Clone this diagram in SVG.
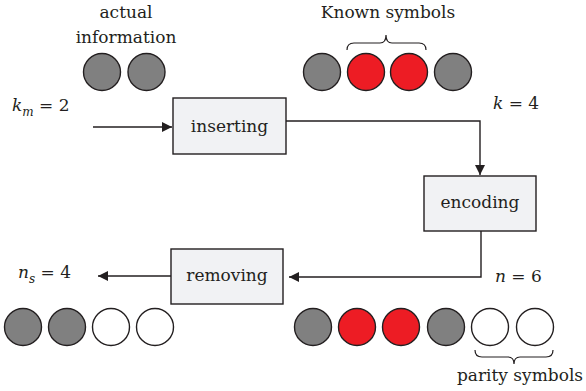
<svg xmlns="http://www.w3.org/2000/svg" width="586" height="391" viewBox="0 0 586 391">
<defs>
<style>
text{font-family:'DejaVu Serif','Liberation Serif',serif;font-size:17px;fill:#231f20}
.it{font-style:italic}
.box{fill:#f1f2f4;stroke:#231f20;stroke-width:1.4}
.g{fill:#808080;stroke:#231f20;stroke-width:1.4}
.r{fill:#ed1c24;stroke:#231f20;stroke-width:1.4}
.w{fill:#ffffff;stroke:#231f20;stroke-width:1.4}
.ln{fill:none;stroke:#231f20;stroke-width:1.4}
.br{fill:none;stroke:#231f20;stroke-width:1.2}
</style>
<marker id="ah" viewBox="0 0 10 10" refX="10" refY="5" markerWidth="10" markerHeight="10" markerUnits="userSpaceOnUse" orient="auto">
<path d="M0,0 L10,5 L0,10 Z" fill="#231f20"/>
</marker>
</defs>
<rect width="586" height="391" fill="#ffffff"/>

<g id="connectors">
<line class="ln" x1="93" y1="127" x2="172" y2="127" marker-end="url(#ah)"/>
<polyline class="ln" points="286,121 480,121 480,175" marker-end="url(#ah)"/>
<polyline class="ln" points="481,231 481,277 289,277" marker-end="url(#ah)"/>
<line class="ln" x1="171" y1="276" x2="98" y2="276" marker-end="url(#ah)"/>
</g>

<g id="inserting">
<rect class="box" x="173" y="98" width="113" height="56"/>
<text x="229.5" y="132" text-anchor="middle">inserting</text>
</g>
<g id="encoding">
<rect class="box" x="424" y="176" width="112" height="55"/>
<text x="480" y="208" text-anchor="middle">encoding</text>
</g>
<g id="removing">
<rect class="box" x="171" y="249" width="112" height="55"/>
<text x="227" y="281" text-anchor="middle">removing</text>
</g>

<g id="actual-info">
<text x="126" y="18" text-anchor="middle">actual</text>
<text x="126" y="43" text-anchor="middle">information</text>
<circle class="g" cx="102" cy="72" r="18.5"/>
<circle class="g" cx="146.5" cy="72" r="18.5"/>
</g>

<g id="known-symbols">
<text x="388" y="18" text-anchor="middle">Known symbols</text>
<path class="br" d="M347,50 Q347,43 354,43 L380,43 Q386,43 386,35 Q386,43 392,43 L419,43 Q426,43 426,50"/>
<circle class="g" cx="322" cy="72" r="18.5"/>
<circle class="r" cx="366" cy="72" r="18.5"/>
<circle class="r" cx="409" cy="72" r="18.5"/>
<circle class="g" cx="453" cy="72" r="18.5"/>
</g>

<g id="labels">
<text x="12" y="111"><tspan class="it">k</tspan><tspan class="it" font-size="12" dy="5">m</tspan><tspan dy="-5"> = 2</tspan></text>
<text x="493" y="109"><tspan class="it">k</tspan> = 4</text>
<text x="18" y="278"><tspan class="it">n</tspan><tspan class="it" font-size="12" dy="5">s</tspan><tspan dy="-5"> = 4</tspan></text>
<text x="495" y="282"><tspan class="it">n</tspan> = 6</text>
</g>

<g id="output">
<circle class="g" cx="23" cy="327" r="18.5"/>
<circle class="g" cx="67" cy="327" r="18.5"/>
<circle class="w" cx="111" cy="327" r="18.5"/>
<circle class="w" cx="155" cy="327" r="18.5"/>
</g>

<g id="codeword">
<circle class="g" cx="313" cy="327" r="18.5"/>
<circle class="r" cx="357" cy="327" r="18.5"/>
<circle class="r" cx="401" cy="327" r="18.5"/>
<circle class="g" cx="446" cy="327" r="18.5"/>
<circle class="w" cx="490" cy="327" r="18.5"/>
<circle class="w" cx="535" cy="327" r="18.5"/>
<path class="br" d="M475,350 Q475,357 482,357 L508,357 Q514,357 514,364 Q514,357 520,357 L546,357 Q553,357 553,350"/>
<text x="520" y="381" text-anchor="middle">parity symbols</text>
</g>
</svg>
